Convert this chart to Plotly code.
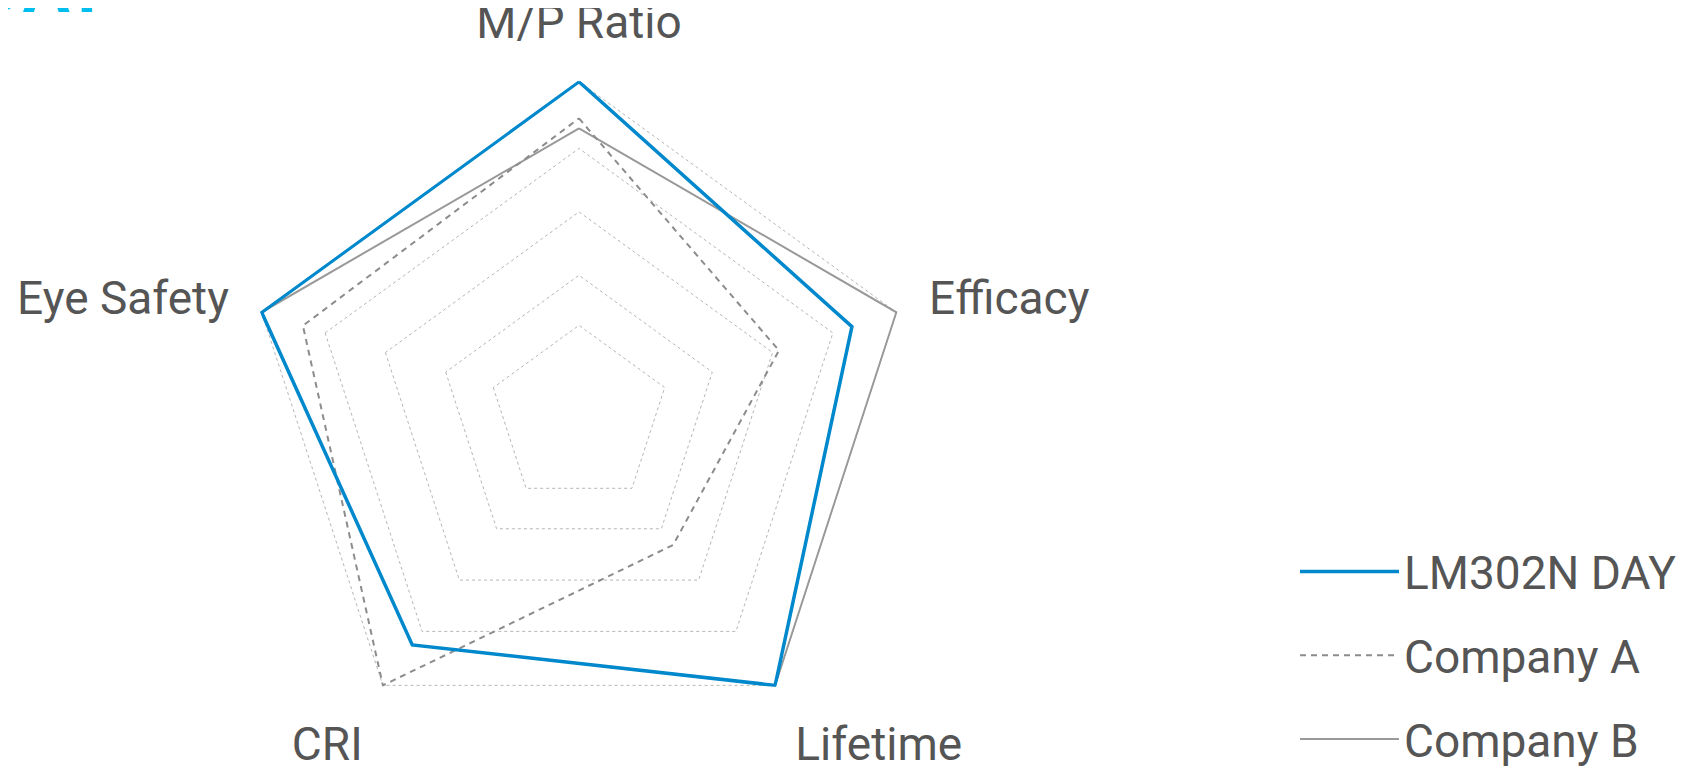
import plotly.graph_objects as go

categories = ["M/P Ratio", "Efficacy", "Lifetime", "CRI", "Eye Safety"]
lm302n_day = [100, 86, 100, 85, 100]
company_a = [89, 63, 48, 100, 87]
company_b = [86, 100, 100, 85, 100]
grid_ticks = [27, 42, 61, 80, 100]

def closed(v):
    return list(v) + [v[0]]

theta = closed(categories)

fig = go.Figure()
fig.add_trace(go.Scatterpolar(
    r=closed(company_b), theta=theta, mode="lines", name="Company B",
    line=dict(color="#999999", width=2), legendrank=3, legendgroup="b"))
fig.add_trace(go.Scatterpolar(
    r=closed(company_a), theta=theta, mode="lines", name="Company A",
    line=dict(color="#8c8c8c", width=2, dash="6px,5px"), legendrank=2, legendgroup="a"))
fig.add_trace(go.Scatterpolar(
    r=closed(lm302n_day), theta=theta, mode="lines", name="LM302N DAY",
    line=dict(color="#0088cc", width=3.5), legendrank=1, legendgroup="lm"))

W, H = 1689, 770
# page body adds an 8px offset, so layout targets are shifted back by 8px
cx, cy, R = 571, 407.4, 333.7 * 1.005

fig.update_layout(
    width=W, height=H,
    margin=dict(l=0, r=0, t=0, b=0),
    paper_bgcolor="white", plot_bgcolor="white",
    font=dict(family="Roboto", color="#555555", size=46),
    polar=dict(
        domain=dict(x=[(cx - R) / W, (cx + R) / W],
                    y=[1 - (cy + R) / H, 1 - (cy - R) / H]),
        bgcolor="white",
        gridshape="linear",
        radialaxis=dict(range=[0, 100.5], tickvals=grid_ticks, showticklabels=False,
                        showline=False, ticks="", gridcolor="#b5b5b5", gridwidth=1,
                        griddash="dot"),
        angularaxis=dict(rotation=90, direction="clockwise", showgrid=False,
                         showline=False, ticks="outside", ticklen=23,
                         tickcolor="rgba(0,0,0,0)",
                         tickfont=dict(size=46, color="#555555", family="Roboto")),
    ),
    legend=dict(x=1287 / W, y=2 / H, xanchor="left", yanchor="bottom",
                font=dict(size=46, color="#555555", family="Roboto"),
                itemwidth=99, tracegroupgap=21, bgcolor="rgba(0,0,0,0)"),
    showlegend=True,
)

fig.add_annotation(text="<b>DAY</b>", xref="paper", yref="paper",
                   x=103 / W, y=1 - 23 / H, xanchor="right", yanchor="bottom",
                   showarrow=False, font=dict(size=70, color="#00bfef", family="Roboto"))

fig.write_html("out.html")
